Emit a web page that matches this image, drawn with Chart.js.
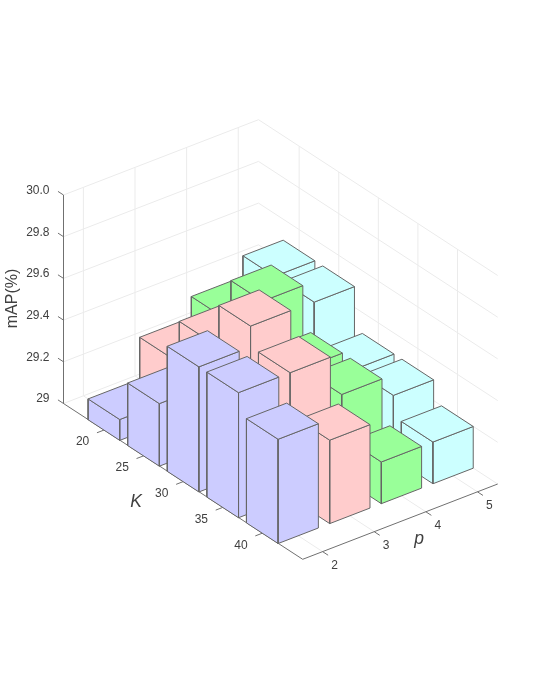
<!DOCTYPE html>
<html>
<head>
<meta charset="utf-8">
<title>mAP bars</title>
<script src="https://cdn.jsdelivr.net/npm/chart.js@4"></script>
<style>
	html, body { margin:0; padding:0; background:#fff; }
	canvas { display:block; }
</style>
</head>
<body>
<canvas id="bars" width="540" height="699"></canvas>
<script>
var kValues = [20, 25, 30, 35, 40];
var pValues = [2, 3, 4, 5];
var zTicks = [29, 29.2, 29.4, 29.6, 29.8, 30];
var zTickLabels = ['29', '29.2', '29.4', '29.6', '29.8', '30.0'];

// one list per p, in the order of kValues
var mapP2 = [29.1, 29.3, 29.6, 29.6, 29.5];
var mapP3 = [29.3, 29.5, 29.7, 29.6, 29.4];
var mapP4 = [29.4, 29.6, 29.4, 29.4, 29.2];
var mapP5 = [29.5, 29.5, 29.3, 29.3, 29.2];
var mapRows = [mapP2, mapP3, mapP4, mapP5];
var rowColors = ['#ccccff', '#ffcccc', '#99ff99', '#ccffff'];

var zMin = 29, zMax = 30;
var kMin = 20 - 0.170 / 0.1655 * 5, kMax = kMin + 5 / 0.1655;
var pMin = 2 - 0.102 / 0.2647, pMax = pMin + 1 / 0.2647;
var barK = 2, barP = 0.39;

var gridColor = '#ebebeb', edgeColor = '#666666', axisColor = '#707070', textColor = '#404040';

// view of the box: k runs from left corner to front corner, p from front to right
function project(k, p, z){
	var t = (k - kMin) / (kMax - kMin);
	var s = (p - pMin) / (pMax - pMin);
	return {
		x: 63.5 + 239.2 * t + 195 * s,
		y: 403.5 + 155.8 * t - 75.3 * s - 208.5 * (z - zMin) / (zMax - zMin)
	};
}

var datasets = [];

function addLine(pts, color, width){
	datasets.push({
		data: pts, showLine: true, fill: false, tension: 0,
		borderColor: color, borderWidth: width, pointRadius: 0
	});
}

function addFace(pts, color){
	pts.push(pts[0]);
	datasets.push({
		data: pts, showLine: true, fill: 'shape', tension: 0,
		backgroundColor: color, borderColor: edgeColor, borderWidth: 1,
		borderJoinStyle: 'round', pointRadius: 0
	});
}

// grid on the floor and the two back walls
zTicks.forEach(function(z){
	addLine([project(kMin, pMin, z), project(kMin, pMax, z), project(kMax, pMax, z)], gridColor, 1);
});
kValues.forEach(function(k){
	addLine([project(k, pMin, zMin), project(k, pMax, zMin), project(k, pMax, zMax)], gridColor, 1);
});
pValues.forEach(function(p){
	addLine([project(kMax, p, zMin), project(kMin, p, zMin), project(kMin, p, zMax)], gridColor, 1);
});

// axes and tick marks
addLine([project(kMin, pMin, zMax), project(kMin, pMin, zMin), project(kMax, pMin, zMin), project(kMax, pMax, zMin)], axisColor, 1);
zTicks.forEach(function(z){
	addLine([project(kMin, pMin, z), project(kMin - 0.7, pMin, z)], axisColor, 1);
});
kValues.forEach(function(k){
	addLine([project(k, pMin, zMin), project(k, pMin - 0.14, zMin)], axisColor, 1);
});
pValues.forEach(function(p){
	addLine([project(kMax, p, zMin), project(kMax + 0.7, p, zMin)], axisColor, 1);
});

// bars, back to front
for(var r = pValues.length - 1; r >= 0; r--){
	kValues.forEach(function(k, i){
		var p = pValues[r];
		var v = mapRows[r][i];
		var k0 = k - barK, k1 = k + barK, p0 = p - barP, p1 = p + barP;
		addFace([project(k0, p0, zMin), project(k1, p0, zMin), project(k1, p0, v), project(k0, p0, v)], rowColors[r]);
		addFace([project(k1, p0, zMin), project(k1, p1, zMin), project(k1, p1, v), project(k1, p0, v)], rowColors[r]);
		addFace([project(k0, p0, v), project(k1, p0, v), project(k1, p1, v), project(k0, p1, v)], rowColors[r]);
	});
}

var axisText = {
	id: 'axisText',
	afterDraw: function(chart){
		var ctx = chart.ctx, sx = chart.scales.x, sy = chart.scales.y;
		function label(text, pt, dx, dy, font, align, angle){
			ctx.save();
			ctx.translate(sx.getPixelForValue(pt.x) + dx, sy.getPixelForValue(pt.y) + dy);
			if(angle) ctx.rotate(angle);
			ctx.font = font;
			ctx.fillStyle = textColor;
			ctx.textAlign = align || 'center';
			ctx.textBaseline = 'middle';
			ctx.fillText(text, 0, 0);
			ctx.restore();
		}
		var tickFont = '12px "Liberation Sans"';
		zTicks.forEach(function(z, i){
			label(zTickLabels[i], project(kMin, pMin, z), -14, -4.5, tickFont, 'right');
		});
		kValues.forEach(function(k){
			label(String(k), project(k, pMin, zMin), -21.6, 12.2, tickFont);
		});
		pValues.forEach(function(p){
			label(String(p), project(kMax, p, zMin), 11.9, 14.3, tickFont);
		});
		label('mAP(%)', {x: 12.5, y: 298.5}, 0, 0, '16px "Liberation Sans"', 'center', -Math.PI / 2);
		label('K', {x: 136, y: 501.7}, 0, 0, 'italic 17.5px "Liberation Sans"');
		label('p', {x: 419, y: 539}, 0, 0, 'italic 17.5px "Liberation Sans"');
	}
};

// chart.js paints the first dataset last, so flip the list
new Chart(document.getElementById('bars').getContext('2d'), {
	type: 'scatter',
	data: { datasets: datasets.reverse() },
	options: {
		responsive: false,
		animation: false,
		events: [],
		layout: { padding: 0 },
		scales: {
			x: { type: 'linear', display: false, min: 0, max: 540 },
			y: { type: 'linear', display: false, min: 0, max: 699, reverse: true }
		},
		plugins: {
			legend: { display: false },
			tooltip: { enabled: false },
			filler: { drawTime: 'beforeDatasetDraw', propagate: false }
		}
	},
	plugins: [axisText]
});
</script>
</body>
</html>
